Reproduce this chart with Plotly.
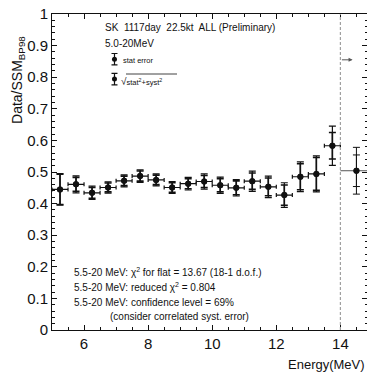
import plotly.graph_objects as go

# ---- data ----
energy = [5.25, 5.75, 6.25, 6.75, 7.25, 7.75, 8.25, 8.75, 9.25, 9.75,
          10.25, 10.75, 11.25, 11.75, 12.25, 12.75, 13.25, 13.75]
ratio = [0.445, 0.461, 0.434, 0.451, 0.472, 0.487, 0.475, 0.451, 0.463, 0.470,
         0.458, 0.450, 0.471, 0.453, 0.427, 0.485, 0.494, 0.583]
err_total = [0.050, 0.027, 0.021, 0.018, 0.019, 0.020, 0.019, 0.019, 0.020, 0.024,
             0.026, 0.026, 0.032, 0.034, 0.039, 0.047, 0.057, 0.062]
err_stat = [0.048, 0.022, 0.017, 0.014, 0.015, 0.016, 0.015, 0.015, 0.016, 0.019,
            0.021, 0.022, 0.026, 0.028, 0.032, 0.041, 0.052, 0.042]
bin_half = [0.25] * len(energy)

# last wide bin 14-20 MeV
last_x = [14.5]
last_ratio = [0.504]
last_err_total = [0.074]
last_err_stat = [0.050]
last_minus = [0.5]
last_plus = [5.5]

threshold = 14.0
arrow_y = 0.855

legend_x = [6.95, 6.95]
legend_y = [0.857, 0.794]
legend_err = [0.018, 0.018]

xticks = [6, 8, 10, 12, 14]
yticks = [0, 0.1, 0.2, 0.3, 0.4, 0.5, 0.6, 0.7, 0.8, 0.9, 1]
ytick_text = ["0", "0.1", "0.2", "0.3", "0.4", "0.5", "0.6", "0.7", "0.8", "0.9", "1"]

FONT = "Liberation Sans"
BLACK = "#111111"

fig = go.Figure()

# total error (outer caps) + horizontal bin width
fig.add_trace(go.Scatter(
    x=energy, y=ratio, mode="markers",
    marker=dict(color=BLACK, size=6),
    error_y=dict(type="data", array=err_total, color=BLACK, thickness=1.2, width=3.5),
    error_x=dict(type="data", array=bin_half, color=BLACK, thickness=1.2, width=2),
    showlegend=False, hoverinfo="skip"))
# stat error (inner caps)
fig.add_trace(go.Scatter(
    x=energy, y=ratio, mode="markers",
    marker=dict(color=BLACK, size=6),
    error_y=dict(type="data", array=err_stat, color=BLACK, thickness=1.6, width=3.5),
    showlegend=False, hoverinfo="skip"))

# last wide bin
fig.add_trace(go.Scatter(
    x=last_x, y=last_ratio, mode="markers",
    marker=dict(color=BLACK, size=6),
    error_y=dict(type="data", array=last_err_total, color=BLACK, thickness=1.0, width=3.5),
    error_x=dict(type="data", symmetric=False, array=last_plus, arrayminus=last_minus,
                 color="#555555", thickness=1.0, width=0),
    showlegend=False, hoverinfo="skip"))
fig.add_trace(go.Scatter(
    x=last_x, y=last_ratio, mode="markers",
    marker=dict(color=BLACK, size=6),
    error_y=dict(type="data", array=last_err_stat, color=BLACK, thickness=1.0, width=3.5),
    showlegend=False, hoverinfo="skip"))

# legend symbols
fig.add_trace(go.Scatter(
    x=legend_x, y=legend_y, mode="markers",
    marker=dict(color=BLACK, size=5),
    error_y=dict(type="data", array=legend_err, color=BLACK, thickness=1.2, width=3),
    showlegend=False, hoverinfo="skip"))

# dashed threshold line
fig.add_shape(type="line", x0=threshold, x1=threshold, y0=0, y1=1,
              xref="x", yref="y", line=dict(color="#a0a0a0", width=1.2, dash="3px,2px"))
# arrow
fig.add_annotation(x=threshold + 0.38, y=arrow_y, ax=threshold, ay=arrow_y,
                   xref="x", yref="y", axref="x", ayref="y", text="",
                   showarrow=True, arrowhead=2, arrowsize=0.8, arrowwidth=1,
                   arrowcolor="#555555")

def txt(x, y, s, size, xanchor="left", **kw):
    fig.add_annotation(x=x, y=y, xref="paper", yref="paper", text=s, showarrow=False,
                       xanchor=xanchor, yanchor="middle",
                       font=dict(family=FONT, size=size, color=BLACK), **kw)

# paper coords: plot area x from 52 to 367 px (315), y from 14 to 330 (316)
def px(xp):
    return (xp - 52) / 315.0
def py(yp):
    return (330 - yp) / 316.0

txt(px(103), py(27), "SK  1117day  22.5kt  ALL (Preliminary)", 10)
txt(px(103), py(43), "5.0-20MeV", 10)
txt(px(121), py(60), "stat error", 7.5)
txt(px(119), py(81), "√<span style='font-size:7.5px'>stat<sup>2</sup>+syst<sup>2</sup></span>", 10)
fig.add_shape(type="line", xref="paper", yref="paper",
              x0=px(126), x1=px(177), y0=py(74), y1=py(74),
              line=dict(color=BLACK, width=0.8))

txt(px(72), py(272), "5.5-20 MeV: χ<sup>2</sup> for flat = 13.67 (18-1 d.o.f.)", 10)
txt(px(72), py(287), "5.5-20 MeV: reduced χ<sup>2</sup> = 0.804", 10)
txt(px(72), py(302), "5.5-20 MeV: confidence level = 69%", 10)
txt(px(108), py(316), "(consider correlated syst. error)", 10)

# axis titles
fig.add_annotation(x=-0.108, y=py(80), xref="paper", yref="paper",
                   text="Data/SSM<sub>BP98</sub>", textangle=-90, showarrow=False,
                   xanchor="center", yanchor="middle",
                   font=dict(family=FONT, size=14, color=BLACK))
fig.add_annotation(x=1.0, y=-0.11, xref="paper", yref="paper", text="Energy(MeV)",
                   showarrow=False, xanchor="right", yanchor="middle",
                   font=dict(family=FONT, size=13, color=BLACK))

fig.update_xaxes(range=[5.0, 14.83], tickvals=xticks, ticks="inside", ticklen=5,
                 tickcolor=BLACK, showline=True, linecolor=BLACK, linewidth=1,
                 mirror="ticks", showgrid=False, zeroline=False,
                 minor=dict(dtick=0.5, tick0=5, ticks="inside", ticklen=3, tickcolor=BLACK),
                 tickfont=dict(family=FONT, size=15, color=BLACK))
fig.update_yaxes(range=[0, 1], tickvals=yticks, ticktext=ytick_text, ticks="inside",
                 ticklen=5, tickcolor=BLACK, showline=True, linecolor=BLACK, linewidth=1,
                 mirror="ticks", showgrid=False, zeroline=False,
                 minor=dict(dtick=0.02, ticks="inside", ticklen=2.5, tickcolor=BLACK),
                 tickfont=dict(family=FONT, size=15, color=BLACK))

fig.update_layout(width=367, height=378, margin=dict(l=52, r=0, t=14, b=48),
                  plot_bgcolor="white", paper_bgcolor="white", showlegend=False)

fig.write_html("out.html", config={"displayModeBar": False},
               post_script="document.body.style.margin='0';document.body.style.overflow='hidden';")
